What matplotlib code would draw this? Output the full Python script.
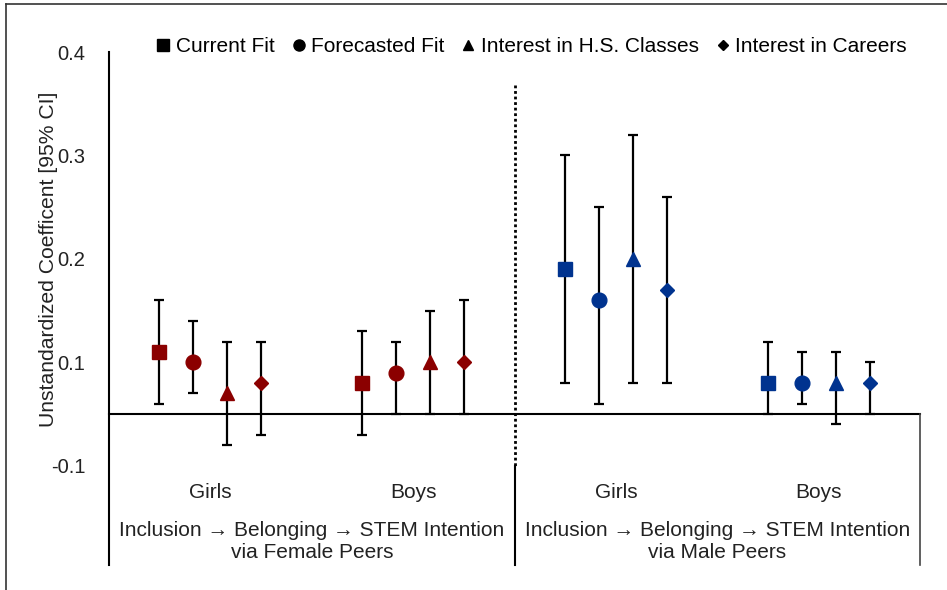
import matplotlib
matplotlib.use("Agg")
import matplotlib.pyplot as plt
from matplotlib.lines import Line2D
import numpy as np

plt.rcParams['font.family'] = ['Liberation Sans', 'DejaVu Sans']

# ---- data ----
subgroups = ["Girls", "Boys", "Girls", "Boys"]
pathways = ["Inclusion \u2192 Belonging \u2192 STEM Intention\nvia Female Peers",
            "Inclusion \u2192 Belonging \u2192 STEM Intention\nvia Male Peers"]
series = ["Current Fit", "Forecasted Fit", "Interest in H.S. Classes", "Interest in Careers"]
markers = ["s", "o", "^", "D"]
marker_sizes = [10.4, 10.6, 9.8, 6.8]
legend_sizes = [8, 8, 7.5, 5.5]

current_fit = [0.11, 0.08, 0.19, 0.08]
current_fit_lo = [0.06, 0.03, 0.08, 0.05]
current_fit_hi = [0.16, 0.13, 0.30, 0.12]

forecasted_fit = [0.10, 0.09, 0.16, 0.08]
forecasted_fit_lo = [0.07, 0.05, 0.06, 0.06]
forecasted_fit_hi = [0.14, 0.12, 0.25, 0.11]

hs_classes = [0.07, 0.10, 0.20, 0.08]
hs_classes_lo = [0.02, 0.05, 0.08, 0.04]
hs_classes_hi = [0.12, 0.15, 0.32, 0.11]

careers = [0.08, 0.10, 0.17, 0.08]
careers_lo = [0.03, 0.05, 0.08, 0.05]
careers_hi = [0.12, 0.16, 0.26, 0.10]

group_colors = ["#8B0000", "#8B0000", "#00338F", "#00338F"]

ytick_pos = [0.0, 0.1, 0.2, 0.3, 0.4]
ytick_labels = ["-0.1", "0.1", "0.2", "0.3", "0.4"]
axis_cross = 0.05

values = [current_fit, forecasted_fit, hs_classes, careers]
los = [current_fit_lo, forecasted_fit_lo, hs_classes_lo, careers_lo]
his = [current_fit_hi, forecasted_fit_hi, hs_classes_hi, careers_hi]

# ---- figure ----
W, H = 947, 590
fig = plt.figure(figsize=(W / 100, H / 100), dpi=100)
ax = fig.add_axes([109 / W, 1 - 565 / H, (920 - 109) / W, (565 - 52) / H])

ymin, ymax = -0.096, 0.4
ax.set_xlim(0, 4)
ax.set_ylim(ymin, ymax)

spacing = 0.1675
for j in range(4):
    for i in range(4):
        x = i + 0.5 + (j - 1.5) * spacing
        v = values[j][i]
        ax.errorbar([x], [v],
                    yerr=[[v - los[j][i]], [his[j][i] - v]],
                    fmt=markers[j], color=group_colors[i],
                    markersize=marker_sizes[j],
                    markeredgecolor=group_colors[i],
                    ecolor="black", elinewidth=1.6, capsize=3.6, capthick=1.6,
                    zorder=3)

# horizontal axis line at crossing
ax.plot([0, 4], [axis_cross, axis_cross], color="black", lw=1.5, zorder=2, clip_on=False)
# dotted divider (plot area)
ax.plot([2, 2], [0.368, 0.0], color="black", lw=2, linestyle=(0, (1, 1)), zorder=2)
# solid divider in category area
ax.plot([2, 2], [0.0, ymin], color="black", lw=1.5, zorder=2, clip_on=False)
# right edge of category area
ax.plot([4, 4], [axis_cross, ymin], color="#444444", lw=1.2, zorder=2, clip_on=False)

for s in ["top", "right", "bottom"]:
    ax.spines[s].set_visible(False)
ax.spines["left"].set_linewidth(1.5)
ax.set_xticks([])
ax.set_yticks(ytick_pos)
ax.set_yticklabels(ytick_labels, fontsize=14.5, color="#222222")
ax.tick_params(axis="y", length=0, pad=17)

ax.set_ylabel("Unstandardized Coefficent [95% CI]", fontsize=15.2, color="#222222")
ax.yaxis.set_label_coords(-0.063, 0.596)

# category labels
for i, g in enumerate(subgroups):
    ax.text(i + 0.5, -0.0256, g, ha="center", va="center", fontsize=15, color="#222222")
for k, p in enumerate(pathways):
    ax.text(2 * k + 1, -0.0735, p, ha="center", va="center", fontsize=15,
            color="#222222", linespacing=1.22)

# legend
handles = [Line2D([], [], marker=markers[j], color="black", linestyle="none",
                  markersize=legend_sizes[j]) for j in range(4)]
fig.legend(handles, series, loc="center", bbox_to_anchor=(532 / W, 1 - 47 / H),
           ncol=4, frameon=False, fontsize=15, handlelength=0.6, handletextpad=0.3,
           columnspacing=0.85, borderpad=0)

# outer frame (top and left)
fig.add_artist(Line2D([6 / W, 1], [1 - 4 / H, 1 - 4 / H], transform=fig.transFigure,
                      color="#333333", lw=1.2))
fig.add_artist(Line2D([6 / W, 6 / W], [1 - 4 / H, 0], transform=fig.transFigure,
                      color="#333333", lw=1.2))

fig.savefig("out.png", dpi=100)
